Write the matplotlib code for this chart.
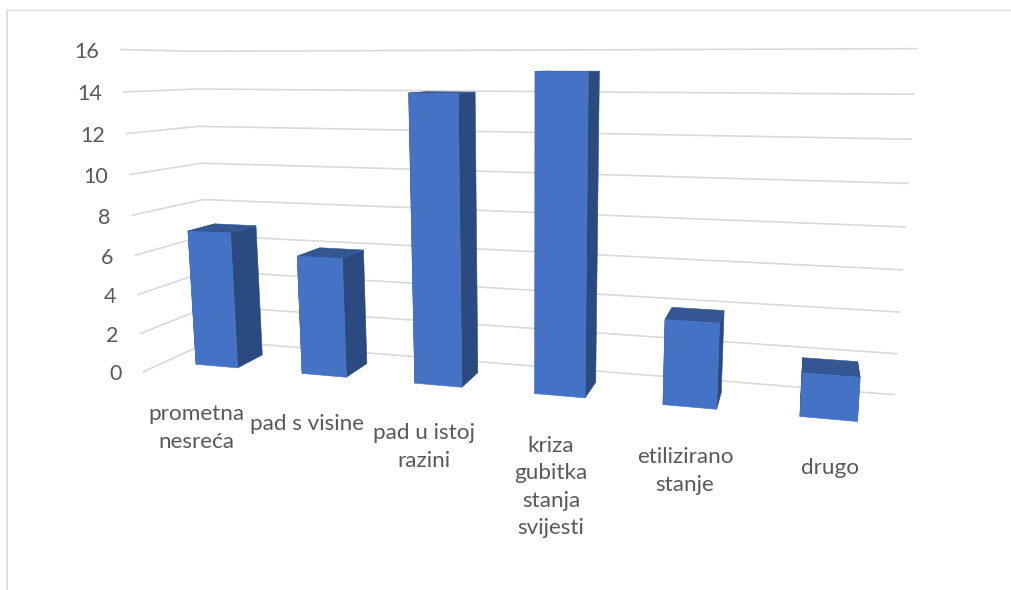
import numpy as np
import matplotlib
matplotlib.use('Agg')
import matplotlib.pyplot as plt
from matplotlib.patches import Polygon

categories = ['prometna\nnesreća', 'pad s visine', 'pad u istoj\nrazini',
              'kriza\ngubitka\nstanja\nsvijesti', 'etilizirano\nstanje', 'drugo']
values = [7, 6, 14, 15, 4, 2]
y_ticks = [0, 2, 4, 6, 8, 10, 12, 14, 16]

# landmarks used to recover the 3D camera of the picture: world x, depth, value -> pixel
world_pts = np.array([
    (0, 1, 0), (6, 1, 0), (0, 1, 16), (6, 1, 16), (0, 0, 0), (0, 0, 16),
    (0, 1, 8), (6, 1, 8), (0, 0, 8),
    (.3, .3, 0), (.7, .3, 0), (.3, .3, 7), (.7, .7, 0), (.7, .7, 7),
    (3.3, .3, 0), (3.7, .3, 0), (3.3, .3, 15), (3.7, .3, 15), (3.7, .7, 0), (3.7, .7, 15),
    (5.3, .3, 0), (5.7, .3, 0), (5.3, .3, 2), (5.7, .3, 2), (5.7, .7, 2), (5.3, .7, 2),
], dtype=float)
pixel_pts = np.array([
    (211, 340), (894.3, 394.7), (195, 51.7), (916.7, 48.3), (143.3, 372), (120.7, 49.3),
    (203.3, 199.7), (905.3, 227), (132.3, 215.3),
    (196, 364), (238, 367.7), (188.3, 231), (262.3, 355), (256, 226),
    (535.3, 393.3), (585.3, 398), (535.3, 71.3), (588.3, 71.3), (596, 382.3), (599.3, 71),
    (800, 416.7), (857.3, 421.3), (801.7, 373.3), (860, 377.3), (857.7, 361.7), (802, 358),
])

GRID = '#d9d9d9'
TEXT = '#595959'
FRONT = '#4472c4'
SIDE = '#2a4a80'
TOP = '#345793'
FONT = 'Lato'
LABEL_XY = [(196, 428), (307, 424), (424, 447), (551, 487), (685, 471), (830, 468)]
BAR_W = 0.4
D0, D1 = 0.3, 0.7


def fit_camera(w, p):
    scale = np.array([6, 1, 16])
    rows = []
    for (a, b, c), (u, v) in zip(w / scale, p / 1000):
        rows.append([a, b, c, 1, 0, 0, 0, 0, -u * a, -u * b, -u * c, -u])
        rows.append([0, 0, 0, 0, a, b, c, 1, -v * a, -v * b, -v * c, -v])
    m = np.linalg.svd(np.array(rows))[2][-1].reshape(3, 4)
    return m @ np.diag([1 / 6, 1, 1 / 16, 1])


cam = fit_camera(world_pts, pixel_pts)


def proj(x, d, z):
    h = cam @ np.array([x, d, z, 1.0])
    return h[:2] / h[2] * 1000


fig = plt.figure(figsize=(10.11, 5.9), dpi=100)
ax = fig.add_axes([0, 0, 1, 1])
ax.set_xlim(0, 1011)
ax.set_ylim(590, 0)
ax.axis('off')

# outer frame of the pasted chart
ax.plot([6, 1011], [10, 10], color='#dcdcdc', lw=1.0, zorder=1)
ax.plot([6.5, 6.5], [590, 10], color='#dcdcdc', lw=1.3, zorder=1)

for t in y_ticks:
    pts = np.array([proj(0, 0, t), proj(0, 1, t), proj(6, 1, t)])
    ax.plot(pts[:, 0], pts[:, 1], color=GRID, lw=1.2, zorder=2)
    ax.text(pts[0, 0] - 22, pts[0, 1] + 2.5, str(t), ha='right', va='center',
            color=TEXT, fontsize=15.5, family=FONT, zorder=5)

for i, v in enumerate(values):
    x0 = i + 0.5 - BAR_W / 2
    x1 = i + 0.5 + BAR_W / 2
    left = [proj(x0, D0, 0), proj(x0, D1, 0), proj(x0, D1, v), proj(x0, D0, v)]
    right = [proj(x1, D0, 0), proj(x1, D1, 0), proj(x1, D1, v), proj(x1, D0, v)]
    top = [proj(x0, D0, v), proj(x1, D0, v), proj(x1, D1, v), proj(x0, D1, v)]
    front = [proj(x0, D0, 0), proj(x1, D0, 0), proj(x1, D0, v), proj(x0, D0, v)]
    for face, col in [(left, SIDE), (right, SIDE), (top, TOP), (front, FRONT)]:
        ax.add_patch(Polygon(face, closed=True, facecolor=col, edgecolor=col, lw=0.4, zorder=3))

for name, (lx, ly) in zip(categories, LABEL_XY):
    ax.text(lx, ly, name, ha='center', va='center', color=TEXT, fontsize=16.2,
            family=FONT, linespacing=1.45, zorder=5)

fig.savefig('out.png', dpi=100)
